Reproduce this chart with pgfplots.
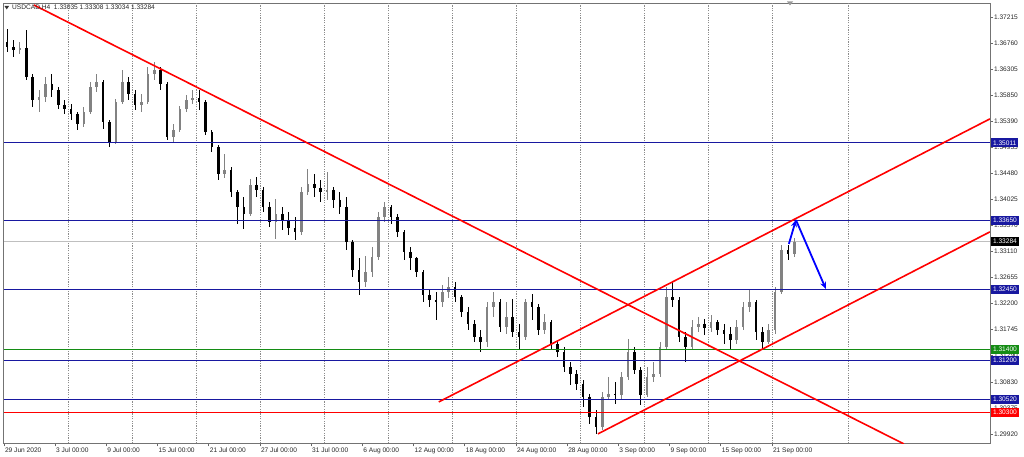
\documentclass[border=0pt]{standalone}
\usepackage{pgfplots}
\pgfplotsset{compat=1.18}
\usepackage{pgfplotstable}
\usetikzlibrary{arrows.meta}
\usepackage{fontspec}
\setmainfont{Liberation Sans}
\definecolor{mtnavy}{RGB}{24,24,160}
\definecolor{mtgreen}{RGB}{20,140,20}
\definecolor{mtred}{RGB}{255,0,0}
\definecolor{mtblue}{RGB}{0,0,255}
\definecolor{upc}{RGB}{130,130,130}
\newcommand{\lbl}{\fontsize{6.6}{7.5}\selectfont}

\pgfplotstableread{
t o h l c
0.25 1.36778 1.37005 1.36603 1.36690
0.75 1.36690 1.36813 1.36515 1.36638
1.25 1.36638 1.36778 1.36568 1.36673
1.75 1.36673 1.36988 1.36113 1.36165
2.25 1.36165 1.36218 1.35640 1.35763
2.75 1.35763 1.35938 1.35553 1.35815
3.25 1.35815 1.36165 1.35728 1.36043
3.75 1.36043 1.36218 1.35815 1.35938
4.25 1.35938 1.35990 1.35605 1.35675
4.75 1.35675 1.35763 1.35518 1.35605
5.25 1.35605 1.35693 1.35413 1.35518
5.75 1.35518 1.35553 1.35238 1.35343
6.25 1.35343 1.35640 1.35290 1.35553
6.75 1.35553 1.36078 1.35518 1.35990
7.25 1.35990 1.36218 1.35903 1.36078
7.75 1.36078 1.36113 1.35255 1.35378
8.25 1.35378 1.35413 1.34940 1.35028
8.75 1.35028 1.35780 1.34993 1.35728
9.25 1.35728 1.36288 1.35693 1.36078
9.75 1.36078 1.36165 1.35763 1.35868
10.25 1.35868 1.35938 1.35588 1.35675
10.75 1.35675 1.35868 1.35553 1.35728
11.25 1.35728 1.36340 1.35693 1.36218
11.75 1.36218 1.36428 1.36113 1.36288
12.25 1.36288 1.36340 1.35938 1.36043
12.75 1.36043 1.36078 1.35063 1.35115
13.25 1.35115 1.35343 1.35028 1.35238
13.75 1.35238 1.35658 1.35203 1.35605
14.25 1.35605 1.35850 1.35553 1.35763
14.75 1.35763 1.35938 1.35693 1.35798
15.25 1.35798 1.35938 1.35588 1.35728
15.75 1.35728 1.35763 1.35150 1.35203
16.25 1.35203 1.35238 1.34853 1.34940
16.75 1.34940 1.34975 1.34363 1.34468
17.25 1.34468 1.34818 1.34398 1.34538
17.75 1.34538 1.34590 1.34065 1.34153
18.25 1.34153 1.34188 1.33593 1.33890
18.75 1.33890 1.34065 1.33505 1.33768
19.25 1.33768 1.34380 1.33733 1.34275
19.75 1.34275 1.34415 1.34065 1.34188
20.25 1.34188 1.34240 1.33803 1.33890
20.75 1.33890 1.33978 1.33540 1.33628
21.25 1.33628 1.34030 1.33330 1.33768
21.75 1.33768 1.33890 1.33488 1.33663
22.25 1.33663 1.33803 1.33400 1.33523
22.75 1.33523 1.33715 1.33313 1.33453
23.25 1.33453 1.34240 1.33400 1.34153
23.75 1.34153 1.34555 1.34100 1.34293
24.25 1.34293 1.34468 1.34065 1.34223
24.75 1.34223 1.34363 1.33978 1.34153
25.25 1.34153 1.34503 1.34013 1.34188
25.75 1.34188 1.34240 1.33873 1.34013
26.25 1.34013 1.34153 1.33768 1.33890
26.75 1.33890 1.34065 1.33138 1.33278
27.25 1.33278 1.33313 1.32665 1.32788
27.75 1.32788 1.32998 1.32350 1.32578
28.25 1.32578 1.33033 1.32490 1.32753
28.75 1.32753 1.33190 1.32665 1.33015
29.25 1.33015 1.33803 1.32963 1.33715
29.75 1.33715 1.33978 1.33628 1.33890
30.25 1.33890 1.33925 1.33593 1.33715
30.75 1.33715 1.33768 1.33365 1.33453
31.25 1.33453 1.33488 1.32963 1.33103
31.75 1.33103 1.33190 1.32788 1.32998
32.25 1.32998 1.33015 1.32665 1.32753
32.75 1.32753 1.32788 1.32228 1.32350
33.25 1.32350 1.32438 1.32140 1.32263
33.75 1.32263 1.32403 1.31913 1.32228
34.25 1.32228 1.32525 1.32140 1.32403
34.75 1.32403 1.32665 1.32298 1.32490
35.25 1.32490 1.32578 1.32228 1.32315
35.75 1.32315 1.32350 1.31965 1.32053
36.25 1.32053 1.32140 1.31738 1.31843
36.75 1.31843 1.31913 1.31528 1.31615
37.25 1.31615 1.31738 1.31353 1.31528
37.75 1.31528 1.32228 1.31440 1.32140
38.25 1.32140 1.32403 1.31965 1.32228
38.75 1.32228 1.32280 1.31703 1.31790
39.25 1.31790 1.32228 1.31668 1.31965
39.75 1.31965 1.32280 1.31615 1.31703
40.25 1.31703 1.31843 1.31405 1.31615
40.75 1.31615 1.32280 1.31563 1.32228
41.25 1.32228 1.32368 1.31913 1.32140
41.75 1.32140 1.32193 1.31650 1.31738
42.25 1.31738 1.32018 1.31668 1.31878
42.75 1.31878 1.31913 1.31388 1.31493
43.25 1.31493 1.31563 1.31265 1.31353
43.75 1.31353 1.31440 1.31003 1.31090
44.25 1.31090 1.31178 1.30775 1.30968
44.75 1.30968 1.31038 1.30688 1.30793
45.25 1.30793 1.30863 1.30390 1.30565
45.75 1.30565 1.30618 1.30093 1.30215
46.25 1.30215 1.30338 1.29918 1.30040
46.75 1.30040 1.30653 1.29988 1.30565
47.25 1.30565 1.30915 1.30513 1.30618
47.75 1.30618 1.30828 1.30443 1.30600
48.25 1.30600 1.31003 1.30513 1.30915
48.75 1.30915 1.31580 1.30863 1.31353
49.25 1.31353 1.31440 1.30968 1.31038
49.75 1.31038 1.31090 1.30425 1.30600
50.25 1.30600 1.31090 1.30565 1.30915
50.75 1.30915 1.31178 1.30828 1.30968
51.25 1.30968 1.31528 1.30915 1.31440
51.75 1.31440 1.32490 1.31388 1.32315
52.25 1.32315 1.32578 1.32140 1.32263
52.75 1.32263 1.32315 1.31528 1.31615
53.25 1.31615 1.31703 1.31178 1.31440
53.75 1.31440 1.31913 1.31388 1.31790
54.25 1.31790 1.31965 1.31703 1.31843
54.75 1.31843 1.31930 1.31650 1.31773
55.25 1.31773 1.32000 1.31703 1.31878
55.75 1.31878 1.31913 1.31650 1.31738
56.25 1.31738 1.31843 1.31493 1.31668
56.75 1.31668 1.31790 1.31405 1.31563
57.25 1.31563 1.31913 1.31493 1.31790
57.75 1.31790 1.32228 1.31738 1.32140
58.25 1.32140 1.32438 1.32053 1.32228
58.75 1.32228 1.32263 1.31563 1.31703
59.25 1.31703 1.31790 1.31405 1.31528
59.75 1.31528 1.31843 1.31493 1.31738
60.25 1.31738 1.32490 1.31668 1.32403
60.75 1.32403 1.33225 1.32368 1.33138
61.25 1.33138 1.33225 1.32963 1.33068
61.75 1.33068 1.33348 1.33015 1.33284
}\candles

\tikzset{pbox/.style={anchor=west, text=white, font=\lbl, inner xsep=2pt, inner ysep=1.2pt, minimum height=9pt, xshift=1pt}}

\begin{document}
\begin{tikzpicture}[x=1pt,y=1pt]
\useasboundingbox (0,0) rectangle (1024,456);
\begin{axis}[
  at={(3,22)}, anchor=south west,
  scale only axis, width=986pt, height=440pt,
  xmin=0, xmax=77.03, ymin=1.2975125, ymax=1.3745125,
  axis line style={black!55, line width=0.7pt},
  tick align=outside, major tick length=3pt,
  tick style={black!60, line width=0.5pt},
  xtick pos=bottom, ytick pos=right, yticklabel pos=right,
  xtick={0,4,8,12,16,20,24,28,32,36,40,44,48,52,56,60},
  xticklabels={29 Jun 2020, 3 Jul 00:00, 9 Jul 00:00, 15 Jul 00:00, 21 Jul 00:00, 27 Jul 00:00, 31 Jul 00:00, 6 Aug 00:00, 12 Aug 00:00, 18 Aug 00:00, 24 Aug 00:00, 28 Aug 00:00, 3 Sep 00:00, 9 Sep 00:00, 15 Sep 00:00, 21 Sep 00:00},
  xticklabel style={anchor=north west, inner sep=1pt, font=\lbl, text=black!85},
  ytick={1.37215,1.36760,1.36305,1.35850,1.35390,1.34935,1.34480,1.34025,1.33570,1.33110,1.32655,1.32200,1.31745,1.31290,1.30830,1.30375,1.29920},
  yticklabels={1.37215,1.36760,1.36305,1.35850,1.35390,1.34935,1.34480,1.34025,1.33570,1.33110,1.32655,1.32200,1.31745,1.31290,1.30830,1.30375,1.29920},
  yticklabel style={anchor=west, inner sep=1pt, font=\lbl, text=black!85},
  extra x ticks={5,10,15,20,25,30,35,40,45,50,55,60,66},
  extra x tick labels={},
  extra x tick style={grid=major, major tick length=0pt, major grid style={black!45, line width=0.6pt, dash pattern=on 1.2pt off 1.2pt}},
  clip=true,
]
% bid line
\addplot[black!25, line width=0.5pt] coordinates {(0,1.33284) (77.03,1.33284)};
% candles: wicks
\addplot[upc, line width=0.7pt, quiver={u=0, v=\thisrow{h}-\thisrow{l}}, restrict expr to domain={\thisrow{c}-\thisrow{o}}{0:1}] table[x=t, y=l] {\candles};
\addplot[black, line width=0.7pt, quiver={u=0, v=\thisrow{h}-\thisrow{l}}, restrict expr to domain={\thisrow{c}-\thisrow{o}}{-1:-0.0000001}] table[x=t, y=l] {\candles};
% candles: bodies
\addplot[upc, line width=2.6pt, quiver={u=0, v=\thisrow{c}-\thisrow{o}}, restrict expr to domain={\thisrow{c}-\thisrow{o}}{0:1}] table[x=t, y=o] {\candles};
\addplot[black, line width=2.6pt, quiver={u=0, v=\thisrow{c}-\thisrow{o}}, restrict expr to domain={\thisrow{c}-\thisrow{o}}{-1:-0.0000001}] table[x=t, y=o] {\candles};
% horizontal levels
\addplot[mtnavy, line width=0.9pt] coordinates {(0,1.35011) (77.03,1.35011)};
\addplot[mtnavy, line width=0.9pt] coordinates {(0,1.33650) (77.03,1.33650)};
\addplot[mtnavy, line width=0.9pt] coordinates {(0,1.32450) (77.03,1.32450)};
\addplot[mtgreen, line width=0.9pt] coordinates {(0,1.31400) (77.03,1.31400)};
\addplot[mtnavy, line width=0.9pt] coordinates {(0,1.31200) (77.03,1.31200)};
\addplot[mtnavy, line width=0.9pt] coordinates {(0,1.30520) (77.03,1.30520)};
\addplot[mtred, line width=0.9pt] coordinates {(0,1.30300) (77.03,1.30300)};
% trend lines
\addplot[mtred, line width=1.6pt] coordinates {(2.34,1.37425) (70.31,1.29743)};
\addplot[mtred, line width=1.6pt] coordinates {(33.98,1.30478) (77.03,1.35430)};
\addplot[mtred, line width=1.6pt] coordinates {(46.41,1.29918) (77.03,1.33453)};
% arrows
\addplot[mtblue, line width=1.8pt, -{Stealth[length=7pt,width=6pt]}] coordinates {(61.33,1.33243) (61.88,1.33663)};
\addplot[mtblue, line width=1.8pt, -{Stealth[length=7pt,width=6pt]}] coordinates {(61.88,1.33663) (64.22,1.32455)};
% label anchors
\coordinate (B1) at (axis cs:77.03,1.35011);
\coordinate (B2) at (axis cs:77.03,1.33650);
\coordinate (B3) at (axis cs:77.03,1.33284);
\coordinate (B4) at (axis cs:77.03,1.32450);
\coordinate (B5) at (axis cs:77.03,1.31400);
\coordinate (B6) at (axis cs:77.03,1.31200);
\coordinate (B7) at (axis cs:77.03,1.30520);
\coordinate (B8) at (axis cs:77.03,1.30300);
\end{axis}
\node[pbox, fill=mtnavy] at (B1) {1.35011};
\node[pbox, fill=mtnavy] at (B2) {1.33650};
\node[pbox, fill=black] at (B3) {1.33284};
\node[pbox, fill=mtnavy] at (B4) {1.32450};
\node[pbox, fill=mtgreen] at (B5) {1.31400};
\node[pbox, fill=mtnavy] at (B6) {1.31200};
\node[pbox, fill=mtnavy] at (B7) {1.30520};
\node[pbox, fill=mtred] at (B8) {1.30300};
% title
\fill[black!80] (4.5,450) -- (9,450) -- (6.75,446.5) -- cycle;
\node[anchor=west, inner sep=0pt, font=\lbl, text=black!85] at (12,448) {USDCAD,H4\ \ 1.33035 1.33308 1.33034 1.33284};
% shift marker
\fill[black!40] (787,454.5) -- (793,454.5) -- (790,450.5) -- cycle;
\end{tikzpicture}
\end{document}
